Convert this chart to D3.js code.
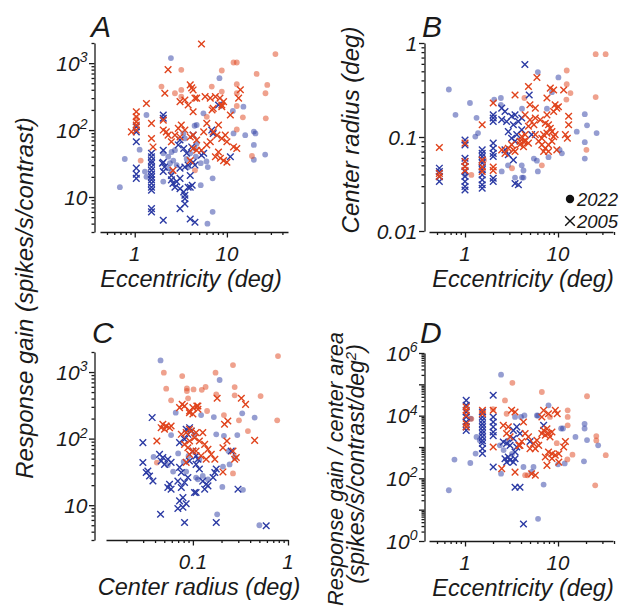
<!DOCTYPE html>
<html><head><meta charset="utf-8">
<script src="https://cdn.jsdelivr.net/npm/d3@7"></script>
<style>
body{margin:0;background:#fff}
svg{display:block}
text{font-family:"Liberation Sans",Arial,Helvetica,sans-serif;font-style:italic;fill:#1a1a1a}
</style>
</head><body>
<svg id="c" width="623" height="610"></svg>
<script>
// ---------- DATA ----------
// Panel A: eccentricity (deg) vs response gain (spikes/s/contrast)
const aBlueX = [[1.04,112],[1.04,94],[1.04,67],[1.04,27],[1.04,22],[1.04,19],
 [1.52,45],[1.52,40],[1.52,35],[1.52,32],[1.52,28],[1.52,25],[1.52,22],[1.52,20],[1.52,18],[1.52,16],[1.52,14],[1.52,12.6],[1.52,6.7],[1.52,6.0],
 [2.04,168],[2.04,150],[2.04,50],[2.04,33],[2.0,32],[2.1,28],[2.04,24],[2.04,4.5],
 [2.5,21],[2.5,18],[2.6,16],[2.73,14],[2.85,17],[3.1,19],[3.1,71],[2.97,60],[3.4,53],[3.66,45],
 [3.1,27],[3.5,28],[3.8,30],[4.0,21],[3.1,13.3],[3.4,11.9],[3.5,10.6],[3.5,9.4],[3.8,14],[4.2,15],
 [3.1,6.7],[3.5,7.9],[4.0,4.7],[4.5,4.2],[4.3,84],[4.15,56],[6.85,100],[7.1,89],[5.6,45],[5.3,42],[4.3,33],[4.5,30],[4.0,14],[8.1,237],[10.9,40]];
const aRedX = [[5.3,1930],[2.3,800],[1.34,250],[1.04,188],[1.04,158],[1.04,133],[1.04,119],[1.04,100],[0.92,94],[1.52,126],[1.52,75],[1.58,56],
 [2.12,355],[2.04,141],[2.04,100],[2.2,94],[2.3,84],[2.5,67],[3.1,266],[3.5,282],[3.8,237],[4.0,473],[4.3,398],[4.7,300],[2.97,106],[3.2,119],[3.5,100],
 [2.73,84],[3.1,79],[2.6,25],[4.0,35],[4.3,53],[4.7,71],[4.15,427],[4.5,300],[4.3,188],[5.8,316],[6.6,300],[7.5,316],[8.4,300],[9.2,266],[8.8,224],
 [7.1,211],[6.9,200],[14,400],[13.4,300],[8.1,119],[6.05,126],[5.6,94],[7.1,94],[4.3,84],[4.0,79],[7.8,84],[8.8,75],[9.6,84],[10,67],[11.8,56],[12.8,53],
 [6.6,67],[6.05,60],[5.3,50],[4.7,50],[8.1,47],[8.5,38],[9.2,35],[10,33],[7.5,40],[10.9,168],[8.8,237]];
const aBlueC = [[2.47,1190],[8.3,596],[1.34,168],[1.13,51],[0.78,37],[0.69,14],[1.29,24],[1.34,20],[2.04,17],[2.04,45],[2.31,40],[2.51,47],[2.73,50],
 [2.41,32],[2.62,35],[2.85,30],[2.51,24],[2.31,27],[3.37,89],[3.5,75],[3.66,37],[4.7,63],[4.5,53],[4.7,119],[3.8,28],[5.56,178],[4.46,116],[11.6,193],
 [15.1,224],[11.8,89],[15.8,84],[19.6,95],[20.4,89],[19.6,60],[19.6,36],[26,43],[6.2,28],[7.0,19],[5.2,15],[7.0,6],[6.15,4.0],[5.2,32],[6.0,34],[4.6,40],[4.0,45]];
const aRedC = [[33.6,1365],[11.8,1023],[12.8,1023],[8.8,776],[21,690],[27.4,473],[26.2,355],[6.85,447],[12.8,484],[12.8,355],[12.8,229],[14.9,155],
 [26.4,150],[12.8,102],[18.7,41],[4.5,25],[8.8,376],[1.95,447],[2.73,355],[3.2,316],[3.2,398],[3.2,794],[1.16,35],[1.04,150],[6.05,158]];

// Panel B: eccentricity (deg) vs center radius (deg)
const bBlueX = [[0.53,0.0466],[0.53,0.0429],[0.53,0.0379],[0.53,0.0336],
 [1.0,0.093],[1.0,0.0825],[1.0,0.0595],[1.0,0.0548],[1.0,0.0485],[1.0,0.0429],[1.0,0.038],[1.0,0.0336],[1.0,0.0297],[1.0,0.0273],
 [1.53,0.073],[1.53,0.067],[1.53,0.062],[1.53,0.057],[1.53,0.053],[1.53,0.048],[1.53,0.045],[1.53,0.0395],[1.53,0.035],[1.53,0.031],[1.53,0.0285],
 [2.01,0.172],[2.01,0.159],[2.01,0.146],[2.01,0.086],[2.01,0.076],[2.01,0.067],[2.01,0.062],[2.01,0.0364],[2.01,0.0336],
 [2.48,0.203],[2.69,0.187],[2.48,0.153],[2.8,0.146],[3.17,0.166],[3.45,0.172],[3.31,0.135],[3.75,0.146],[4.07,0.159],[2.92,0.114],[3.17,0.097],
 [3.6,0.106],[4.07,0.119],[3.45,0.09],[2.69,0.073],[2.92,0.065],[3.31,0.057],[3.45,0.032],[3.75,0.031],[4.4,0.59],[4.9,0.28],[5.2,0.106]];
const bRedX = [[0.53,0.0773],[0.53,0.041],[0.53,0.038],[1.0,0.0548],[1.0,0.0485],[1.0,0.044],[1.0,0.086],[1.53,0.057],[1.53,0.048],[1.53,0.043],[1.53,0.135],
 [2.01,0.23],[2.01,0.048],[2.01,0.044],[3.45,0.28],[2.48,0.073],[2.69,0.067],[2.92,0.076],[3.17,0.083],[3.45,0.07],[3.9,0.083],[4.25,0.0895],[3.31,0.073],
 [5.93,0.43],[4.81,0.345],[4.99,0.22],[4.43,0.172],[5.7,0.203],[7.6,0.172],[8.26,0.331],[8.97,0.316],[7.6,0.26],[9.3,0.22],[9.7,0.203],[10.1,0.21],
 [8.97,0.187],[11.5,0.316],[13.0,0.166],[12.0,0.106],[12.6,0.097],
 [6.45,0.152],[7.3,0.14],[7.9,0.135],[8.26,0.124],[8.6,0.114],[7.6,0.11],[7.0,0.106],[6.7,0.097],[6.2,0.09],[6.7,0.0825],[7.3,0.076],[7.9,0.0825],
 [8.6,0.09],[8.97,0.101],[9.3,0.106],[9.7,0.073],[7.9,0.07],[7.0,0.07],[4.43,0.106],[4.07,0.101],[4.43,0.09],[4.81,0.086],[4.25,0.079],[3.9,0.09],
 [5.5,0.135],[5.7,0.159],[5.0,0.152],[4.81,0.13],[5.7,0.106],[13.0,0.135]];
const bBlueC = [[0.67,0.32],[0.79,0.172],[1.13,0.23],[1.33,0.16],[1.29,0.101],[1.38,0.11],[2.43,0.26],[2.43,0.22],[2.06,0.25],[2.48,0.043],[3.45,0.037],
 [4.1,0.037],[4.1,0.2],[6.07,0.49],[10.1,0.43],[19.4,0.175],[20.5,0.133],[15.9,0.114],[26,0.11],[19.4,0.088],[19.4,0.059],[11.0,0.067],[7.9,0.061],
 [5.5,0.059],[5.93,0.056],[6.07,0.043],[4.25,0.044],[4.25,0.037],[4.07,0.05],[7.6,0.2],[8.6,0.3],[1.0,0.04],[2.9,0.05],[10.4,0.073]];
const bRedC = [[25.4,0.76],[32.5,0.76],[12.4,0.51],[12.4,0.365],[13.6,0.293],[25.4,0.266],[20.2,0.073],[4.35,0.26],[3.2,0.0465],[1.17,0.0395],
 [1.6,0.057],[6.7,0.05],[12.3,0.25]];

// Panel C: center radius (deg) vs response gain
const cBlueX = [[0.0373,207],[0.0298,87],[0.0298,43.7],[0.0323,31],[0.035,27.5],[0.0336,32.7],[0.038,23.1],[0.0446,58],[0.0483,52],[0.0464,46],
 [0.0503,41],[0.0545,49],[0.059,44],[0.0568,20.6],[0.0545,18.4],[0.059,17.4],[0.0695,23],[0.0756,18.4],[0.0817,21.9],[0.0886,26],[0.0724,11.6],
 [0.0786,13],[0.0695,8.9],[0.0786,9.3],[0.085,10.5],[0.0457,7.3],[0.0817,5.5],[0.0724,87],[0.0817,98],[0.0886,116],[0.096,130],[0.085,138],
 [0.0923,146],[0.1,65],[0.104,15.5],[0.0756,31],[0.0724,37],[0.108,55],[0.113,49],[0.092,46],[0.138,20.6],[0.144,19.5],[0.133,17.4],[0.163,26],
 [0.17,31],[0.176,35],[0.108,15.5],[0.298,17.4],[0.176,5.5],[0.59,4.9],[0.253,65],[0.117,35],[0.127,23],[0.108,41]];
const cRedX = [[0.0772,327],[0.0724,292],[0.0817,309],[0.0923,260],[0.1,292],[0.1129,309],[0.0483,164],[0.0524,155],[0.0568,146],[0.0464,146],
 [0.0503,138],[0.059,155],[0.0418,92],[0.0756,116],[0.085,123],[0.096,130],[0.108,123],[0.104,103],[0.0923,92],[0.0817,82],[0.0886,73],[0.1,65],
 [0.0923,58],[0.18,403],[0.323,403],[0.358,327],[0.233,184],[0.215,164],[0.446,94],[0.228,92],[0.207,73],[0.264,65],[0.286,52],[0.207,31.6],
 [0.11,309],[0.113,276],[0.092,245],[0.1,234],[0.133,82],[0.144,69],[0.156,58],[0.17,49],[0.138,49],[0.122,55],[0.108,65],[0.127,123],[0.117,92],
 [0.092,138],[0.275,49],[0.085,44]];
const cBlueC = [[0.0457,1496],[0.066,245],[0.059,113],[0.0386,53],[0.0545,40],[0.062,32],[0.085,32],[0.108,26],[0.117,49],[0.191,759],[0.122,226],
 [0.166,211],[0.33,240],[0.446,207],[0.212,110],[0.293,113],[0.104,116],[0.176,116],[0.237,65],[0.207,38],[0.243,41],[0.127,27.5],[0.113,24.5],
 [0.144,24.5],[0.204,18.8],[0.336,17],[0.18,7.3],[0.5,5.0],[0.275,52],[0.07,60],[0.08,45],[0.09,55]];
const cRedC = [[0.0495,977],[0.0772,871],[0.0524,562],[0.0865,568],[0.0865,519],[0.1016,549],[0.059,376],[0.089,403],[0.0418,43.7],[0.785,1738],
 [0.264,1274],[0.173,977],[0.124,540],[0.136,597],[0.275,595],[0.275,447],[0.515,436],[0.176,462],[0.141,260],[0.212,226],[0.305,188],[0.379,130],
 [0.77,188],[0.264,30]];

// Panel D: eccentricity (deg) vs response gain / center area
const dBlueX = [[1.03,30700],[1.03,21400],[1.03,13100],[1.03,9100],[1.03,6300],[1.03,4400],[1.03,3400],
 [1.54,13100],[1.54,9100],[1.54,7100],[1.54,5500],[1.54,4400],[1.54,3400],[1.54,2700],[1.54,2100],[1.54,1600],[1.54,1300],[1.54,890],[1.54,620],
 [2.01,44700],[2.01,9100],[2.01,6300],[2.01,4400],[2.01,3000],[2.01,2300],[2.01,230],
 [2.58,1450],[2.8,1300],[3.05,1130],[3.31,1860],[3.6,1000],[2.92,480],[3.05,380],[3.31,330],[2.8,330],[2.69,420],[3.45,420],[3.45,52],[3.9,52],
 [4.25,3.5],[3.31,3400],[3.6,4400],[3.9,2700],[7.0,4900],[5.0,1500],[3.45,690]];
const dRedX = [[1.03,19000],[1.03,14900],[1.03,10200],[1.03,5500],[1.03,4400],[1.54,14900],[1.54,11500],
 [2.01,14900],[2.01,1000],[2.58,4900],[2.92,4400],[2.8,2700],[3.05,2100],[3.45,13100],[3.17,14900],[3.9,1130],[4.25,6300],[2.48,204],[3.45,158],
 [7.0,14800],[7.9,11500],[9.35,14800],[9.8,11500],[6.7,9100],[7.0,3400],[7.6,3800],[7.9,2700],[7.3,2400],[8.2,2100],[6.7,2700],[8.6,3000],
 [4.43,2700],[4.81,2100],[4.07,1500],[3.8,1130],[5.45,1300],[5.93,1640],[6.2,1130],[5.0,890],[5.7,890],
 [7.9,690],[8.6,610],[9.35,550],[10.2,610],[11.5,1000],[12.0,1500],[10.2,330],[7.6,260],[8.6,430],[7.3,480],[5.7,126],[5.2,140]];
const dBlueC = [[2.44,204000],[0.77,398],[0.67,41.7],[1.14,309],[1.3,617],[1.33,2090],[1.44,1640],[2.44,141],[3.45,9100],[2.37,1130],
 [7.9,21400],[5.93,10200],[19.3,5500],[19.3,3900],[15.4,2090],[20.5,1660],[27,1130],[10.8,3900],[10,280],[19.0,350],[7.0,63],[6.1,5.1],
 [4.25,230],[5.45,230],[5.2,160],[1.15,8000],[2.9,1600],[4.0,9100],[4.35,10200],[6.1,10000],[11.8,300],[11.3,3900],[2.6,800],[3.2,600]];
const dRedC = [[3.23,112000],[2.69,30700],[2.8,11500],[6.7,56900],[20.5,41700],[12.7,14800],[12.7,9100],[12.7,4900],[25.8,2240],[25.8,1620],
 [32.6,550],[25.1,60],[14.3,570],[12.6,400],[9.7,1320],[4.43,126],[8.2,9100],[1.17,7900],[4.7,125],[2.0,16000]];

// Tick values and labels
const eccMajor = [1,10], eccMajorLabels = [["1",""],["10",""]];
const eccMinor = [0.5,0.6,0.7,0.8,0.9,2,3,4,5,6,7,8,9,20,30,40];
const gainMajor = [10,100,1000], gainMajorLabels = [["10",""],["10","2"],["10","3"]];
const gainMinor = [3,4,5,6,7,8,9,20,30,40,50,60,70,80,90,200,300,400,500,600,700,800,900,2000];
const radMajor = [0.01,0.1,1], radMajorLabels = [["0.01",""],["0.1",""],["1",""]];
const radMinor = [0.02,0.03,0.04,0.05,0.06,0.07,0.08,0.09,0.2,0.3,0.4,0.5,0.6,0.7,0.8,0.9];
const radXMajor = [0.1,1], radXMajorLabels = [["0.1",""],["1",""]];
const radXMinor = [0.02,0.03,0.04,0.05,0.06,0.07,0.08,0.09,0.2,0.3,0.4,0.5,0.6,0.7,0.8,0.9];
const densMajor = [1,100,1e4,1e6], densMajorLabels = [["10","0"],["10","2"],["10","4"],["10","6"]];
const densMid = [10,1000,1e5];
const densMinor = [];
[1,10,100,1000,1e4,1e5].forEach(d=>{for(let k=2;k<=9;k++) densMinor.push(d*k);});

const legendLabels = ["2022","2005"];

// ---------- DRAWING ----------
const BLUE = "#2c3ba4", RED = "#e0431c";
const svg = d3.select("#c");
const cross = "M-3.3,-3.3L3.3,3.3M-3.3,3.3L3.3,-3.3";

function drawPanel(p){
  const g = svg.append("g");
  const x = d3.scaleLog().domain(p.xDomain).range(p.xRange);
  const y = d3.scaleLog().domain(p.yDomain).range(p.yRange);
  const style = sel => { sel.selectAll("path,line").attr("stroke","#1a1a1a").attr("stroke-width",1.3); };

  // x axis
  const gx = g.append("g").attr("transform",`translate(0,${p.xAxisY})`);
  gx.call(d3.axisBottom(x).tickValues(p.xMinor).tickSize(3).tickSizeOuter(0).tickFormat(""));
  gx.append("g").call(d3.axisBottom(x).tickValues(p.xMajor).tickSize(5.5).tickSizeOuter(0).tickFormat(""))
    .select(".domain").remove();
  style(gx);
  // y axis
  const gy = g.append("g").attr("transform",`translate(${p.yAxisX},0)`);
  gy.call(d3.axisLeft(y).tickValues(p.yMinor).tickSize(3).tickSizeOuter(0).tickFormat(""));
  gy.append("g").call(d3.axisLeft(y).tickValues(p.yMajor.concat(p.yMid||[])).tickSize(5.5).tickSizeOuter(0).tickFormat(""))
    .select(".domain").remove();
  style(gy);

  // tick labels
  p.xMajor.forEach((v,i)=>{
    g.append("text").attr("x",x(v)).attr("y",p.xAxisY+29).attr("text-anchor","middle")
      .attr("font-size",20.5).text(p.xLabels[i][0]);
  });
  p.yMajor.forEach((v,i)=>{
    const t = g.append("text").attr("x",p.yAxisX-7).attr("y",y(v)+7.5).attr("text-anchor","end").attr("font-size",21);
    t.append("tspan").text(p.yLabels[i][0]);
    if(p.yLabels[i][1]) t.append("tspan").attr("dy",-8.5).attr("font-size",14).text(p.yLabels[i][1]);
  });

  // marks
  const mk = (data,col)=>g.append("g").selectAll("circle").data(data).join("circle")
      .attr("cx",d=>x(d[0])).attr("cy",d=>y(d[1])).attr("r",2.9)
      .attr("fill",col).attr("fill-opacity",0.5);
  const mx = (data,col)=>g.append("g").selectAll("path").data(data).join("path")
      .attr("d",cross).attr("transform",d=>`translate(${x(d[0])},${y(d[1])})`)
      .attr("fill","none").attr("stroke",col).attr("stroke-width",1.4);
  mk(p.blueC,BLUE); mk(p.redC,RED);
  mx(p.blueX,BLUE); mx(p.redX,RED);

  // panel letter
  g.append("text").attr("x",p.letterX).attr("y",p.letterY).attr("font-size",30).text(p.letter);
  // x title
  g.append("text").attr("x",p.xTitleX).attr("y",p.xAxisY+55).attr("text-anchor","middle")
    .attr("font-size",23.5).text(p.xTitle);
  return {x,y,g};
}

drawPanel({letter:"A",letterX:91,letterY:37,
  xDomain:[0.42,46],xRange:[100,288],yDomain:[3,2000],yRange:[232,43],xAxisY:232,yAxisX:94.5,
  xMajor:eccMajor,xLabels:eccMajorLabels,xMinor:eccMinor,yMajor:gainMajor,yLabels:gainMajorLabels,yMinor:gainMinor,
  blueX:aBlueX,redX:aRedX,blueC:aBlueC,redC:aRedC,xTitle:"Eccentricity (deg)",xTitleX:191});

drawPanel({letter:"B",letterX:422,letterY:37,
  xDomain:[0.41,39],xRange:[429,613],yDomain:[0.01,1],yRange:[231,43],xAxisY:232,yAxisX:424.5,
  xMajor:eccMajor,xLabels:eccMajorLabels,xMinor:eccMinor,yMajor:radMajor,yLabels:radMajorLabels,yMinor:radMinor,
  blueX:bBlueX,redX:bRedX,blueC:bBlueC,redC:bRedC,xTitle:"Eccentricity (deg)",xTitleX:523});

drawPanel({letter:"C",letterX:92,letterY:343,
  xDomain:[0.0122,1],xRange:[106,288],yDomain:[3,2000],yRange:[540,352],xAxisY:540,yAxisX:94.5,
  xMajor:radXMajor,xLabels:radXMajorLabels,xMinor:radXMinor,yMajor:gainMajor,yLabels:gainMajorLabels,yMinor:gainMinor,
  blueX:cBlueX,redX:cRedX,blueC:cBlueC,redC:cRedC,xTitle:"Center radius (deg)",xTitleX:199});

drawPanel({letter:"D",letterX:420,letterY:343,
  xDomain:[0.41,39],xRange:[429,613],yDomain:[1,1e6],yRange:[541,353],xAxisY:541,yAxisX:424.5,
  xMajor:eccMajor,xLabels:eccMajorLabels,xMinor:eccMinor,yMajor:densMajor,yMid:densMid,yLabels:densMajorLabels,yMinor:densMinor,
  blueX:dBlueX,redX:dRedX,blueC:dBlueC,redC:dRedC,xTitle:"Eccentricity (deg)",xTitleX:523});

// y titles
svg.append("text").attr("transform","translate(33,298) rotate(-90)").attr("text-anchor","middle")
  .attr("font-size",24).text("Response gain (spikes/s/contrast)");
svg.append("text").attr("transform","translate(359,130) rotate(-90)").attr("text-anchor","middle")
  .attr("font-size",24).text("Center radius (deg)");
svg.append("text").attr("transform","translate(343,469) rotate(-90)").attr("text-anchor","middle")
  .attr("font-size",21.8).text("Response gain / center area");
const t2 = svg.append("text").attr("transform","translate(364,464) rotate(-90)").attr("text-anchor","middle")
  .attr("font-size",23);
t2.append("tspan").text("(spikes/s/contrast/deg");
t2.append("tspan").attr("dy",-8).attr("font-size",15).text("2");
t2.append("tspan").attr("dy",8).text(")");

// legend (panel B)
const lg = svg.append("g");
lg.append("circle").attr("cx",570).attr("cy",199).attr("r",4.2).attr("fill","#111");
lg.append("path").attr("d","M-4.8,-4.8L4.8,4.8M-4.8,4.8L4.8,-4.8").attr("transform","translate(570,221)")
  .attr("stroke","#111").attr("stroke-width",1.4).attr("fill","none");
lg.append("text").attr("x",577).attr("y",205.5).attr("font-size",18.5).text(legendLabels[0]);
lg.append("text").attr("x",577).attr("y",227.5).attr("font-size",18.5).text(legendLabels[1]);
</script>
</body></html>
